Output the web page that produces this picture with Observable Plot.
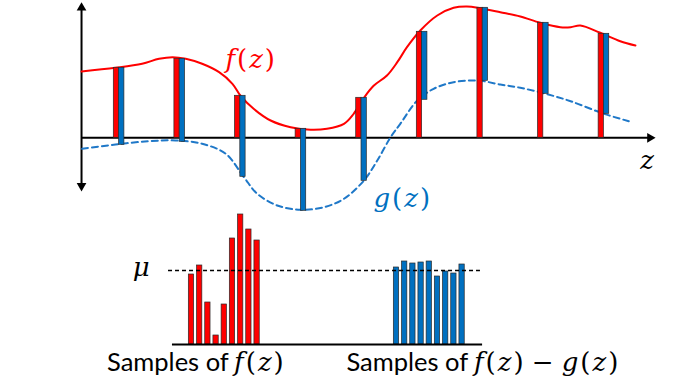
<!DOCTYPE html>
<html><head><meta charset="utf-8">
<script src="https://cdn.jsdelivr.net/npm/d3@7"></script>
<script src="https://cdn.jsdelivr.net/npm/@observablehq/plot@0.6"></script>
<style>
body{margin:0;background:#fff;}
#wrap{position:relative;width:677px;height:379px;overflow:hidden;background:#fff;}
#wrap svg{position:absolute;left:0;overflow:visible;}
</style></head><body><div id="wrap"></div>
<script>
// ---- data ----
const sampleZ  = [1, 2, 3, 4, 5, 6, 7, 8, 9];
const fSamples = [7.0, 7.9, 4.2, 0.9, 4.0, 10.6, 13.0, 11.5, 10.4];
const gSamples = [-0.7, -0.4, -3.9, -7.3, -4.3, 3.8, 5.7, 4.4, 2.4];

const fCurveZ = [0.38, 0.94, 1.38, 1.66, 1.88, 2.10, 2.37, 2.65, 2.87, 3.0, 3.22, 3.50, 3.83, 4.16, 4.43, 4.71, 4.87, 5.04, 5.20, 5.42, 5.59, 5.75, 5.97, 6.25, 6.52, 6.74, 6.96, 7.29, 7.62, 7.95, 8.28, 8.45, 8.61, 8.94, 9.27, 9.52];
const fCurveV = [6.63, 7.0, 7.4, 7.9, 8.06, 7.9, 7.4, 6.56, 5.4, 4.23, 2.9, 1.73, 1.06, 0.8, 0.9, 1.4, 2.4, 4.0, 5.2, 6.23, 7.56, 9.06, 10.73, 12.23, 13.0, 13.13, 12.96, 12.56, 12.13, 11.5, 11.06, 11.06, 11.23, 10.5, 9.66, 9.23];

const gCurveZ = [0.39, 0.94, 1.49, 1.93, 2.37, 2.76, 3.06, 3.28, 3.61, 3.99, 4.38, 4.71, 5.04, 5.26, 5.48, 5.64, 5.92, 6.19, 6.52, 6.91, 7.29, 7.62, 8.04, 8.45, 9.0, 9.41];
const gCurveV = [-1.1, -0.67, -0.34, -0.27, -0.6, -1.6, -3.94, -5.6, -6.77, -7.2, -6.94, -6.1, -4.27, -2.27, 0.06, 1.4, 3.73, 4.9, 5.56, 5.73, 5.33, 5.0, 4.4, 3.66, 2.4, 1.66];

const mu = 7.4;
const histSlotF = [0, 1, 2, 3, 4, 5, 6, 7, 8];
const histSlotD = [25, 26, 27, 28, 29, 30, 31, 32, 33];

const labelTop = ["f(z)", "g(z)", "z"];
const labelBottom = ["Samples of", "f(z)", "Samples of", "f(z) \u2212 g(z)"];

// ---- styling ----
const RED = "#ff0000", BLUE = "#0070c0", DASH = "#1f78c8", EDGE = "#2a2a2a";
const MATH = "DejaVu Serif", SANS = "Lato";
const MATH_SIZE = 26;

// ---- tables built from arrays ----
const samples = sampleZ.map((z, i) => ({z, f: fSamples[i], g: gSamples[i]}));
const fCurve = fCurveZ.map((z, i) => ({z, v: fCurveV[i]}));
const gCurve = gCurveZ.map((z, i) => ({z, v: gCurveV[i]}));
const histF = histSlotF.map((u, i) => ({u, v: fSamples[i]}));
const histD = histSlotD.map((u, i) => ({u, v: fSamples[i] - gSamples[i]}));

const halfBar = 0.0875; // bar width in z units

const mathText = (data, opts) => Plot.text(data, {text: d => d, fontFamily: MATH, fontStyle: "italic", fontSize: MATH_SIZE, ...opts});

const topPlot = Plot.plot({
  width: 677, height: 220, margin: 0,
  style: {background: "transparent", overflow: "visible"},
  x: {axis: null, domain: [-0.957, 10.214]},
  y: {axis: null, domain: [-8.27, 13.73]},
  marks: [
    Plot.ruleY([0], {x1: 0.38, x2: 9.74, stroke: "black", strokeWidth: 2}),
    Plot.ruleX([0.38], {y1: -5.0, y2: 13.2, stroke: "black", strokeWidth: 2}),
    Plot.dot([{z: 9.76, v: 0, a: 90}, {z: 0.38, v: 13.0, a: 0}, {z: 0.38, v: -4.8, a: 180}],
      {x: "z", y: "v", rotate: "a", symbol: "triangle", r: 3.6, fill: "black", stroke: "none"}),
    Plot.line(gCurve, {x: "z", y: "v", stroke: DASH, strokeWidth: 2, strokeDasharray: "6,4", curve: "catmull-rom"}),
    Plot.line(fCurve, {x: "z", y: "v", stroke: RED, strokeWidth: 2, curve: "catmull-rom"}),
    Plot.rect(samples, {x1: d => d.z - halfBar, x2: "z", y1: 0, y2: "f", fill: RED, stroke: EDGE, strokeWidth: 0.7}),
    Plot.rect(samples, {x1: "z", x2: d => d.z + halfBar, y1: "g", y2: "f", fill: BLUE, stroke: EDGE, strokeWidth: 0.7}),
    mathText([labelTop[0]], {x: 3.18, y: 7.8, fill: RED}),
    mathText([labelTop[1]], {x: 5.68, y: -6.1, fill: BLUE}),
    mathText([labelTop[2]], {x: 9.73, y: -2.3, fill: "black"})
  ]
});

const histPlot = Plot.plot({
  width: 677, height: 179, margin: 0,
  style: {background: "transparent", overflow: "visible"},
  x: {axis: null, domain: [-23.29, 59.27]},
  y: {axis: null, domain: [-3.5, 14.4]},
  marks: [
    Plot.rect(histF, {x1: d => d.u - 0.5, x2: d => d.u + 0.5, y1: 0, y2: "v", insetLeft: 1.45, insetRight: 1.45, fill: RED, stroke: EDGE, strokeWidth: 0.7}),
    Plot.rect(histD, {x1: d => d.u - 0.5, x2: d => d.u + 0.5, y1: 0, y2: "v", insetLeft: 1.45, insetRight: 1.45, fill: BLUE, stroke: EDGE, strokeWidth: 0.7}),
    Plot.ruleY([0], {x1: -2.32, x2: 35.5, stroke: "black", strokeWidth: 2}),
    Plot.ruleY([mu], {x1: -2.8, x2: 35.24, stroke: "black", strokeWidth: 1.3, strokeDasharray: "4,3"}),
    mathText(["\u03bc"], {x: -6.0, y: mu, dy: -3, fill: "black"}),
    Plot.text([labelBottom[0]], {x: 4.55, y: -2.6, text: d => d, textAnchor: "end", lineAnchor: "bottom", fontFamily: SANS, fontSize: 25.5, fill: "black"}),
    mathText([labelBottom[1]], {x: 5.2, y: -2.6, textAnchor: "start", lineAnchor: "bottom", fill: "black"}),
    Plot.text([labelBottom[2]], {x: 33.75, y: -2.6, text: d => d, textAnchor: "end", lineAnchor: "bottom", fontFamily: SANS, fontSize: 25.5, fill: "black"}),
    mathText([labelBottom[3]], {x: 34.45, y: -2.6, textAnchor: "start", lineAnchor: "bottom", fill: "black"})
  ]
});

// math typesetting: italic letters, upright brackets and operators, a little letter spacing
function typeset(svg) {
  d3.select(svg).selectAll("text").each(function () {
    const node = d3.select(this);
    if (node.attr("font-style") !== "italic" && d3.select(this.parentNode).attr("font-style") !== "italic") return;
    const s = this.textContent;
    node.text(null).attr("letter-spacing", 2);
    for (const ch of s) {
      const upright = /[()\u2212 ]/.test(ch);
      const span = node.append("tspan").attr("font-style", upright ? "normal" : "italic").text(ch);
      if (ch === " ") span.attr("font-size", 13);
    }
  });
}
typeset(topPlot);
typeset(histPlot);

const wrap = document.getElementById("wrap");
topPlot.style.top = "0px";
histPlot.style.top = "200px";
wrap.appendChild(topPlot);
wrap.appendChild(histPlot);
</script></body></html>
